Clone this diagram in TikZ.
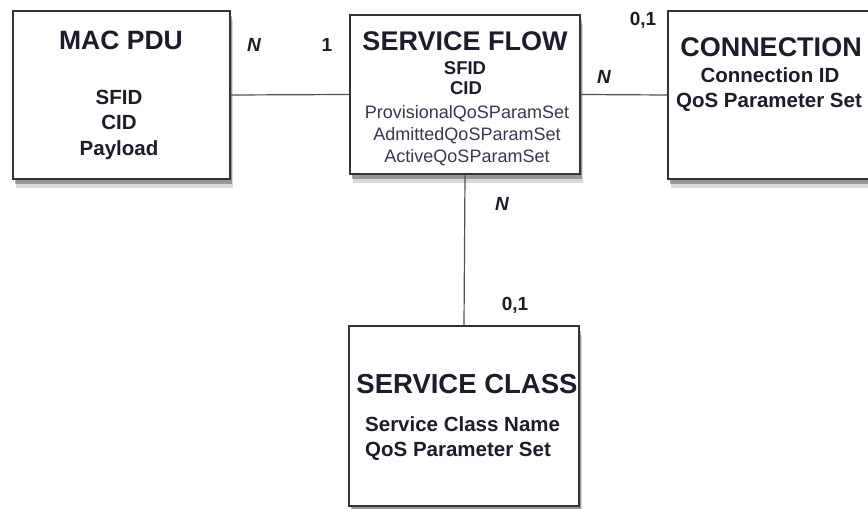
\documentclass[tikz,border=0pt]{standalone}
\usepackage{fontspec}
\setmainfont{Liberation Sans}
\usetikzlibrary{shadows}
\definecolor{ink}{RGB}{28,28,42}
\definecolor{soft}{RGB}{55,55,80}
\definecolor{edge}{RGB}{50,50,55}
\begin{document}
\begin{tikzpicture}[x=1pt,y=-1pt,
  box/.style={draw=edge, line width=1.5pt, fill=white, rectangle, inner sep=0pt,
    drop shadow={shadow xshift=2.5pt, shadow yshift=-9pt, opacity=0.15, fill=black},
    drop shadow={shadow xshift=1.5pt, shadow yshift=-5pt, opacity=0.3, fill=black}},
  txt/.style={anchor=base, inner sep=0pt, text=ink},
  title/.style={txt, font=\bfseries\fontsize{26.5}{26.5}\selectfont},
  field/.style={txt, font=\bfseries\fontsize{20.5}{20.5}\selectfont},
  sub/.style={txt, font=\bfseries\fontsize{18.5}{18.5}\selectfont},
  param/.style={txt, text=soft, font=\fontsize{18}{18}\selectfont},
  lab/.style={anchor=center, inner sep=0pt, text=ink, font=\bfseries\fontsize{19}{19}\selectfont},
  link/.style={draw=edge!85, line width=1.2pt}
]
\useasboundingbox (0,0) rectangle (868,509);

% boxes
\node[box, minimum width=217pt, minimum height=168pt] (mac)  at (121.5,95) {};
\node[box, minimum width=230pt, minimum height=159pt] (sf)   at (465,94.5) {};
\node[box, minimum width=207pt, minimum height=168pt] (conn) at (771.5,95) {};
\node[box, minimum width=230pt, minimum height=180pt] (sc)   at (464,416) {};

% connectors
\draw[link] (mac.east) -- (sf.west);
\draw[link] (sf.east) -- (conn.west);
\draw[link] (sf.south) -- (sc.north);

% MAC PDU texts
\node[title] (macT) at (121,49.5) {MAC PDU};
\node[field] (mac1) at (119,104) {SFID};
\node[field] (mac2) at (119,129.5) {CID};
\node[field] (mac3) at (119,155) {Payload};

% Service flow texts
\node[title, font=\bfseries\fontsize{27}{27}\selectfont] (sfT) at (465,50) {SERVICE FLOW};
\node[sub] (sf1) at (465,74) {SFID};
\node[sub] (sf2) at (466,94) {CID};
\node[param] (sf3) at (467,118) {ProvisionalQoSParamSet};
\node[param] (sf4) at (467,140) {AdmittedQoSParamSet};
\node[param] (sf5) at (467,162) {ActiveQoSParamSet};

% Connection texts
\node[title, font=\bfseries\fontsize{27}{27}\selectfont] (connT) at (771,56) {CONNECTION};
\node[field] (conn1) at (770,82) {Connection ID};
\node[field] (conn2) at (769,107) {QoS Parameter Set};

% Service class texts
\node[title, font=\bfseries\fontsize{27.5}{27.5}\selectfont] (scT) at (467,393) {SERVICE CLASS};
\node[field, anchor=base west] (sc1) at (365,431) {Service Class Name};
\node[field, anchor=base west] (sc2) at (365,456) {QoS Parameter Set};

% multiplicity labels
\node[lab] (l1) at (254,45) {\itshape N};
\node[lab] (l2) at (327,45) {1};
\node[lab] (l3) at (643,20) {0,1};
\node[lab] (l4) at (604,77) {\itshape N};
\node[lab] (l5) at (502,204) {\itshape N};
\node[lab] (l6) at (515,305) {0,1};
\end{tikzpicture}
\end{document}
